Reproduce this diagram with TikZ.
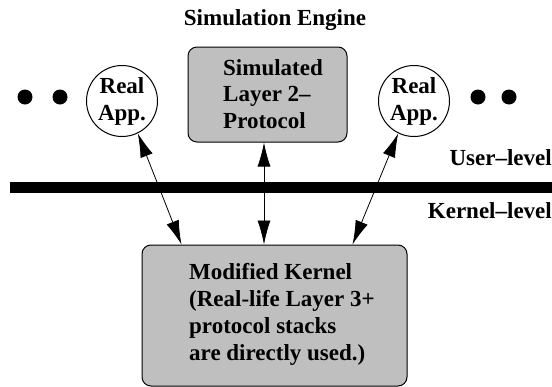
\documentclass[tikz,border=0pt]{standalone}
\usepackage{fontspec}
\setmainfont{Liberation Serif}
\usetikzlibrary{arrows.meta,calc}
\begin{document}
\begin{tikzpicture}[x=1pt,y=-1pt,
  lbl/.style={font=\fontsize{23}{26.7}\selectfont\bfseries, inner sep=0pt},
  graybox/.style={draw, line width=1pt, rounded corners=9pt, fill=black!25},
  appcircle/.style={draw, line width=1pt, circle, minimum size=71pt, inner sep=0pt, align=center, font=\fontsize{23}{27}\selectfont\bfseries},
  dot/.style={fill=black, circle, minimum size=15pt, inner sep=0pt},
  link/.style={line width=0.8pt, {Latex[length=24pt,width=13pt]}-{Latex[length=24pt,width=13pt]}}
]
\useasboundingbox (0,0) rectangle (552,386);
% title
\node[lbl, anchor=base] (title) at (275,25) {Simulation Engine};
% dots
\node[dot] (d1) at (25,97) {};
\node[dot] (d2) at (60,97) {};
\node[dot] (d3) at (478,97) {};
\node[dot] (d4) at (509,97) {};
% apps
\node[appcircle] (appL) at (122,101) {Real\\App.};
\node[appcircle] (appR) at (414,101) {Real\\App.};
% simulated box
\node[graybox, minimum width=159pt, minimum height=95pt] (sim) at (267.5,94.5) {};
\node[lbl, align=left, anchor=base west] (simtext) at (223,128.4) {Simulated\\Layer 2--\\Protocol};
% kernel box
\node[graybox, minimum width=265pt, minimum height=141pt] (kernel) at (274.5,315.5) {};
\node[lbl, align=left, anchor=base west] (kerntext) at (189,360) {Modified Kernel\\(Real-life Layer 3+\\protocol stacks\\are directly used.)};
% bar
\fill (10,182) rectangle (560,193);
% level labels
\node[lbl, anchor=base east] (user) at (552,165) {User--level};
\node[lbl, anchor=base east] (kern) at (552,218) {Kernel--level};
% connectors
\draw[link] (appL.-64) -- ($(kernel.north west)+(40,0)$);
\draw[link] (sim.south -| 264,0) -- (kernel.north -| 264,0);
\draw[link] (appR.-116) -- ($(kernel.north west)+(211,0)$);
\end{tikzpicture}
\end{document}
